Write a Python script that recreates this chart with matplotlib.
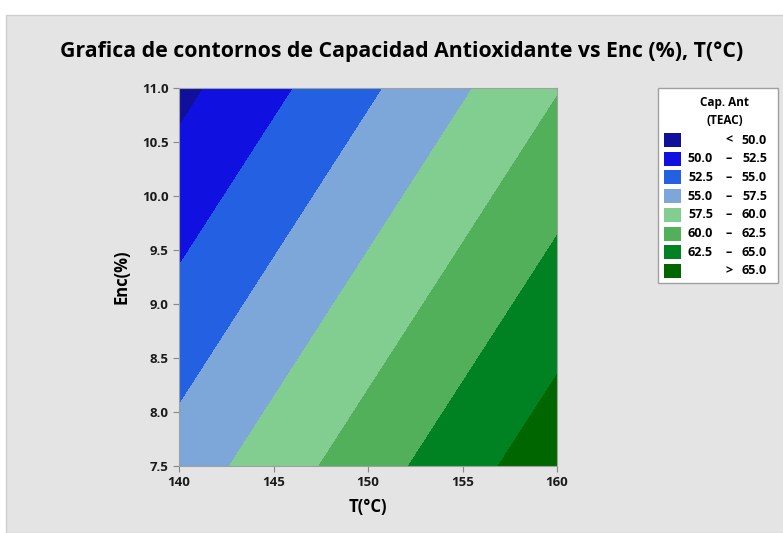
import numpy as np
import matplotlib.pyplot as plt
from matplotlib.patches import Rectangle

plt.rcParams['font.family'] = ['Open Sans', 'DejaVu Sans']

# fitted surface values on a coarse grid
temp = [140, 150, 160]
enc = [7.5, 9.25, 11.0]
cap_ant = [
    [56.09, 61.37, 66.64],   # Enc = 7.5
    [52.70, 57.97, 63.24],   # Enc = 9.25
    [49.30, 54.58, 59.85],   # Enc = 11.0
]

levels = [40, 50, 52.5, 55, 57.5, 60, 62.5, 65, 80]
level_labels = [('', '<', '50.0'), ('50.0', '–', '52.5'), ('52.5', '–', '55.0'),
                ('55.0', '–', '57.5'), ('57.5', '–', '60.0'), ('60.0', '–', '62.5'),
                ('62.5', '–', '65.0'), ('', '>', '65.0')]
colors = ['#10109a', '#1010e0', '#2360e2', '#7da7d9',
          '#81ce90', '#52b05a', '#008222', '#006600']

W, H = 783, 533
fig = plt.figure(figsize=(W / 100, H / 100), dpi=100)
fig.patch.set_facecolor('white')
bg = Rectangle((6 / W, 0), 1, 1 - 15 / H, transform=fig.transFigure,
               facecolor='#e4e4e4', edgecolor='#cfcfcf', lw=1, zorder=-10)
fig.patches.append(bg)

ax = fig.add_axes([179 / W, 1 - 466 / H, (557 - 179) / W, (466 - 88) / H])
ax.set_zorder(5)
T, E = np.meshgrid(temp, enc)
ax.contourf(T, E, np.array(cap_ant), levels=levels, colors=colors)

ax.set_xlim(140, 160)
ax.set_ylim(7.5, 11.0)
ax.set_xticks([140, 145, 150, 155, 160])
ax.set_yticks(np.arange(7.5, 11.01, 0.5))
ax.yaxis.set_major_formatter(plt.FormatStrFormatter('%.1f'))
ax.tick_params(direction='out', length=4, color='#888888', labelsize=9.5,
               labelcolor='#1a1a1a')
for lbl in ax.get_xticklabels() + ax.get_yticklabels():
    lbl.set_fontweight('bold')
for s in ax.spines.values():
    s.set_color('#a0a0a0')

ax.set_xlabel('T(°C)', fontsize=12, fontweight='bold', labelpad=6)
ax.set_ylabel('Enc(%)', fontsize=12, fontweight='bold', labelpad=8)

fig.text(402 / W, 1 - 52 / H,
         'Grafica de contornos de Capacidad Antioxidante vs Enc (%), T(°C)',
         ha='center', va='center', fontsize=15.3, fontweight='bold')

# legend box drawn by hand
fig.patches.append(Rectangle((658 / W, 1 - 283 / H), 120 / W, 195 / H,
                             transform=fig.transFigure, facecolor='white',
                             edgecolor='#a0a0a0', lw=1, zorder=1))
fig.text(725 / W, 1 - 102 / H, 'Cap. Ant', ha='center', va='center',
         fontsize=8.5, fontweight='bold')
fig.text(725 / W, 1 - 120 / H, '(TEAC)', ha='center', va='center',
         fontsize=8.5, fontweight='bold')
for i, (c, (lo, sep, hi)) in enumerate(zip(colors, level_labels)):
    y = 140 + i * 18.7
    fig.patches.append(Rectangle((664 / W, 1 - (y + 7) / H), 17 / W, 14 / H,
                                 transform=fig.transFigure, facecolor=c,
                                 edgecolor='none', zorder=2))
    fig.text(713 / W, 1 - y / H, lo, ha='right', va='center', fontsize=9,
             fontweight='bold')
    fig.text(729 / W, 1 - y / H, sep, ha='center', va='center', fontsize=9,
             fontweight='bold')
    fig.text(767 / W, 1 - y / H, hi, ha='right', va='center', fontsize=9,
             fontweight='bold')

fig.savefig('out.png', dpi=100)
